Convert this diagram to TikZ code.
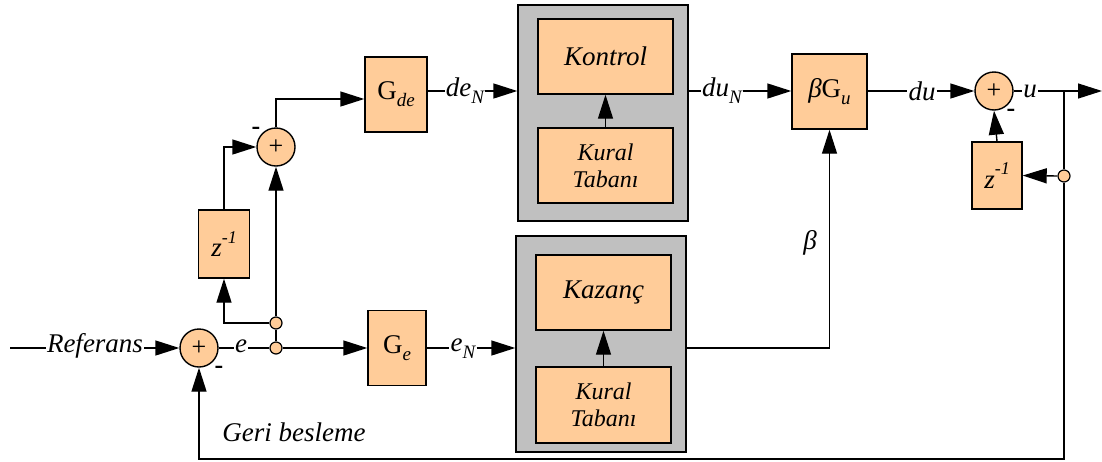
\documentclass[tikz,border=0pt]{standalone}
\usepackage{fontspec}
\setmainfont{LiberationSerif}[
  Extension=.ttf,
  UprightFont=*-Regular,
  ItalicFont=*-Italic,
  BoldFont=*-Bold,
  BoldItalicFont=*-BoldItalic]
\usetikzlibrary{arrows.meta}
\definecolor{blockfill}{HTML}{FFCC99}
\definecolor{panel}{HTML}{C0C0C0}
% lowered / raised small indices in the text font
\newcommand\lowidx[1]{\raisebox{-0.25em}{\fontsize{19}{19}\selectfont\itshape #1}}
\newcommand\zinv{{\itshape z\raisebox{0.5em}{\fontsize{18}{18}\selectfont -1}}}
\tikzset{
  wire/.style={line width=1.4pt},
  flow/.style={wire,-{Triangle[length=24pt,width=15pt]}},
  blockbox/.style={draw, line width=1.4pt, fill=blockfill, inner sep=0pt,
    font=\fontsize{27}{29}\selectfont\itshape},
  panelbox/.style={draw, line width=1.4pt, fill=panel, inner sep=0pt},
  sumnode/.style={circle, draw, line width=1.4pt, fill=blockfill, minimum size=38pt,
    inner sep=0pt, font=\fontsize{26}{26}\selectfont},
  tap/.style={circle, draw, line width=1.2pt, fill=blockfill, minimum size=12pt, inner sep=0pt},
  lbl/.style={inner sep=1pt, font=\fontsize{27}{29}\selectfont\itshape},
  rulebox/.style={blockbox, font=\fontsize{24}{27}\selectfont\itshape, align=center},
  sign/.style={inner sep=0pt, font=\fontsize{26}{26}\selectfont\bfseries},
}
\begin{document}
\begin{tikzpicture}[x=1pt,y=-1pt]
\useasboundingbox (0,0) rectangle (1102,461);

% signal rows
\coordinate (rowA) at (0,91);
\coordinate (rowB) at (0,348);

% ---- input side ----
\coordinate (src) at (10,348);
\node[lbl] (ref) at (95,346) {Referans};
\node[sumnode] (s1) at (199,348) {+};
\node[sign] (m1) at (219,370) {-};
\node[lbl] (e) at (241,346) {e};
\node[tap] (j1) at (276,348) {};
\node[tap] (j2) at (276,323) {};

% ---- error derivative path ----
\node[blockbox, minimum width=51pt, minimum height=68pt] (z1) at (224,244) {\zinv};
\node[sumnode] (s2) at (276,147) {+};
\node[sign] (m2) at (256,131) {-};
\node[blockbox, minimum width=62pt, minimum height=75pt] (gde) at (396,94.5) {{\upshape G}\lowidx{de}};
\node[lbl] (den) at (465,91) {de\lowidx{N}};

% ---- error path ----
\node[blockbox, minimum width=58pt, minimum height=75pt] (ge) at (397,348) {{\upshape G}\lowidx{e}};
\node[lbl] (en) at (463,349) {e\lowidx{N}};

% ---- fuzzy control unit ----
\node[panelbox, minimum width=170pt, minimum height=216pt] (p1) at (603,113) {};
\node[blockbox, minimum width=135pt, minimum height=75pt] (kon) at (605.5,56.5) {Kontrol};
\node[rulebox, minimum width=135pt, minimum height=75pt] (kt1) at (605.5,165.5) {Kural\\Tabanı};

% ---- fuzzy gain unit ----
\node[panelbox, minimum width=170pt, minimum height=216pt] (p2) at (601,344) {};
\node[blockbox, minimum width=135pt, minimum height=75pt] (kaz) at (603.5,292.5) {Kazanç};
\node[rulebox, minimum width=135pt, minimum height=76pt] (kt2) at (603.5,405) {Kural\\Tabanı};

% ---- output scaling and integration ----
\node[lbl] (dun) at (722,91) {du\lowidx{N}};
\node[blockbox, minimum width=75pt, minimum height=75pt] (bgu) at (829.5,91.5) {β{\upshape G}\lowidx{u}};
\node[lbl] (beta) at (810,243) {β};
\node[lbl] (du) at (922,91) {du};
\node[sumnode] (s3) at (994,91) {+};
\node[sign] (m3) at (1011,113) {-};
\node[lbl] (u) at (1030,91) {u};
\node[blockbox, minimum width=50pt, minimum height=67pt] (z2) at (997,175.5) {\zinv};
\coordinate (split) at (1064,91);
\coordinate (out) at (1102,91);
\node[tap] (j3) at (1064,176) {};
\coordinate (corner) at (1064,459);
\node[lbl] (fb) at (294,432) {Geri besleme};

% ---- connectors ----
\draw[wire] (src) -- (ref.west |- rowB);
\draw[flow] (ref.east |- rowB) -- (s1.west);
\draw[wire] (s1.east) -- (e.west |- rowB);
\draw[wire] (e.east |- rowB) -- (j1.west);
\draw[flow] (j1.east) -- (ge.west);
\draw[wire] (j1.north) -- (j2.south);
\draw[flow] (j2.north) -- (s2.south);
\draw[flow] (j2.west) -| (z1.south);
\draw[flow] (z1.north) |- (s2.west);
\draw[flow] (s2.north) |- ([yshift=-4.5pt]gde.west);
\draw[wire] (gde.east |- rowA) -- (den.west |- rowA);
\draw[flow] (den.east |- rowA) -- (p1.west |- rowA);
\draw[flow] (kt1.north) -- (kon.south);
\draw[wire] (p1.east |- rowA) -- (dun.west |- rowA);
\draw[flow] (dun.east |- rowA) -- (bgu.west |- rowA);
\draw[wire] (bgu.east |- rowA) -- (du.west |- rowA);
\draw[flow] (du.east |- rowA) -- (s3.west);
\draw[wire] (s3.east) -- (u.west |- rowA);
\draw[flow] (u.east |- rowA) -- (out);
\draw[wire] (split) -- (j3.north);
\draw[flow] (j3.west) -- (z2.east);
\draw[flow] (z2.north) -- (s3.south);
\draw[flow] (j3.south) -- (corner) -| (s1.south);
\draw[wire] (ge.east) -- (en.west |- rowB);
\draw[flow] (en.east |- rowB) -- (p2.west |- rowB);
\draw[flow] (kt2.north) -- (kaz.south);
\draw[flow] (p2.east |- rowB) -| (bgu.south);
\end{tikzpicture}
\end{document}
